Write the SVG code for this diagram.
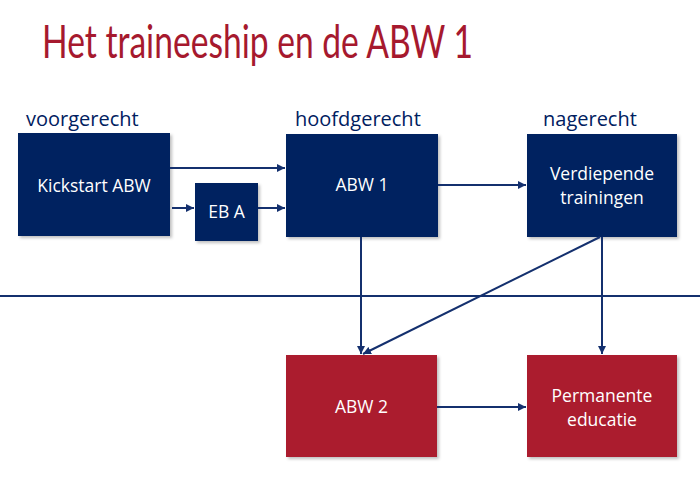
<svg xmlns="http://www.w3.org/2000/svg" width="700" height="495" viewBox="0 0 700 495">
<defs>
<marker id="ah" viewBox="0 0 10 10" refX="10" refY="5" markerWidth="4" markerHeight="4" orient="auto" markerUnits="strokeWidth">
<path d="M0,0 L10,5 L0,10 z" fill="#14306e"/>
</marker>
<filter id="sh" x="-10%" y="-10%" width="130%" height="130%">
<feDropShadow dx="2" dy="2" stdDeviation="1.5" flood-color="#000" flood-opacity="0.25"/>
</filter>
</defs>
<style>
.blue{fill:#002060;filter:url(#sh)}
.red{fill:#ab1a2d;filter:url(#sh)}
.t{font-family:"Open Sans","Liberation Sans",sans-serif;fill:#fff;font-size:17.5px;text-anchor:middle}
.lab{font-family:"Open Sans","Liberation Sans",sans-serif;fill:#002060;font-size:20px}
.c{stroke:#14306e;stroke-width:2;fill:none}
</style>
<rect width="700" height="495" fill="#fff"/>
<text x="42" y="58" font-family="Lato, Open Sans, Liberation Sans, sans-serif" font-size="46" fill="#a6192e" textLength="431" lengthAdjust="spacingAndGlyphs">Het traineeship en de ABW 1</text>
<text class="lab" x="26" y="126">voorgerecht</text>
<text class="lab" x="295" y="126">hoofdgerecht</text>
<text class="lab" x="543" y="126">nagerecht</text>
<line x1="0" y1="296" x2="700" y2="296" stroke="#14306e" stroke-width="2"/>
<g id="kickstart"><rect class="blue" x="18" y="133" width="152" height="103"/><text class="t" x="94" y="192">Kickstart ABW</text></g>
<g id="eba"><rect class="blue" x="195" y="183" width="63" height="58"/><text class="t" x="226.5" y="218">EB A</text></g>
<g id="abw1"><rect class="blue" x="286" y="134" width="152" height="103"/><text class="t" x="362" y="191">ABW 1</text></g>
<g id="verdiepende"><rect class="blue" x="527" y="134" width="150" height="103"/><text class="t" x="602" y="180">Verdiepende</text><text class="t" x="602" y="204">trainingen</text></g>
<g id="abw2"><rect class="red" x="286" y="355" width="151" height="102"/><text class="t" x="361.5" y="413">ABW 2</text></g>
<g id="permanente"><rect class="red" x="527" y="355" width="150" height="102"/><text class="t" x="602" y="402">Permanente</text><text class="t" x="602" y="426">educatie</text></g>
<g id="connectors">
<line class="c" x1="170" y1="168" x2="285" y2="168" marker-end="url(#ah)"/>
<line class="c" x1="172" y1="208" x2="194" y2="208" marker-end="url(#ah)"/>
<line class="c" x1="258" y1="208" x2="285" y2="208" marker-end="url(#ah)"/>
<line class="c" x1="438" y1="185" x2="526" y2="185" marker-end="url(#ah)"/>
<line class="c" x1="361" y1="237" x2="361" y2="354" marker-end="url(#ah)"/>
<line class="c" x1="600" y1="237" x2="363" y2="354" marker-end="url(#ah)"/>
<line class="c" x1="602" y1="237" x2="602" y2="354" marker-end="url(#ah)"/>
<line class="c" x1="437" y1="407" x2="526" y2="407" marker-end="url(#ah)"/>
</g>
</svg>
